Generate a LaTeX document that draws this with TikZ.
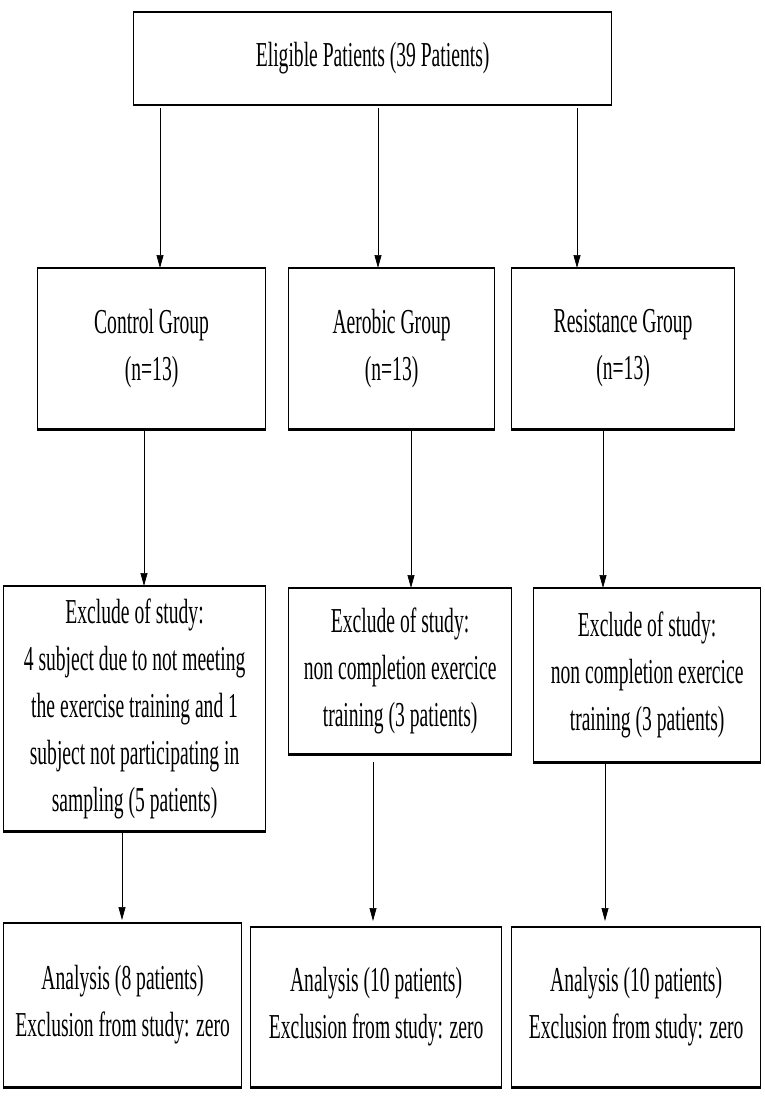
\documentclass[tikz,border=0pt]{standalone}
\usepackage{fontspec}
\setmainfont{Liberation Serif}[FakeStretch=0.56]
\usetikzlibrary{arrows.meta}
\begin{document}
\begin{tikzpicture}[x=1pt,y=-1pt,
  box/.style={draw, line width=1.2pt, rectangle, anchor=north west, inner sep=0pt,
    align=center, font=\fontsize{35}{47}\selectfont},
  arr/.style={line width=0.7pt, -{Triangle[length=13pt,width=7pt]}},
  edge/.style={line width=2.6pt}]
\useasboundingbox (0,0) rectangle (765,1097);
\node[box, minimum width=478pt, minimum height=92pt] (top) at (133,12) {Eligible Patients (39 Patients)};
\node[box, minimum width=228pt, minimum height=160pt] (ctrl) at (37,268) {Control Group\\(n=13)};
\node[box, minimum width=206pt, minimum height=160pt] (aer) at (288,268) {Aerobic Group\\(n=13)};
\node[box, minimum width=223pt, minimum height=160pt] (res) at (511,268) {Resistance Group\\(n=13)};
\node[box, minimum width=262pt, minimum height=244pt] (exc1) at (3,586) {Exclude of study:\\4 subject due to not meeting\\the exercise training and 1\\subject not participating in\\sampling (5 patients)};
\node[box, minimum width=223pt, minimum height=165pt] (exc2) at (288,588) {Exclude of study:\\non completion exercice\\training (3 patients)};
\node[box, minimum width=227pt, minimum height=173pt] (exc3) at (533,588) {Exclude of study:\\non completion exercice\\training (3 patients)};
\node[box, minimum width=238pt, minimum height=163pt] (ana1) at (3,923) {Analysis (8 patients)\\Exclusion from study: zero};
\node[box, minimum width=251pt, minimum height=159pt] (ana2) at (250,927) {Analysis (10 patients)\\Exclusion from study: zero};
\node[box, minimum width=249pt, minimum height=159pt] (ana3) at (511,927) {Analysis (10 patients)\\Exclusion from study: zero};
\foreach \n in {top,ctrl,aer,res,exc1,exc2,exc3,ana1,ana2,ana3}{
  \draw[edge] (\n.north west) -- (\n.north east);
  \draw[edge] (\n.south west) -- (\n.south east);
}
\coordinate (a1) at (160,0);
\coordinate (a2) at (378,0);
\coordinate (a3) at (577,0);
\coordinate (b1) at (144,0);
\coordinate (b2) at (411,0);
\coordinate (b3) at (603,0);
\coordinate (c1) at (122,0);
\coordinate (c2) at (373,0);
\coordinate (c3) at (605,0);
\draw[arr] ([yshift=-3pt]top.south -| a1) -- (ctrl.north -| a1);
\draw[arr] ([yshift=-3pt]top.south -| a2) -- (aer.north -| a2);
\draw[arr] ([yshift=-3pt]top.south -| a3) -- (res.north -| a3);
\draw[arr] ([yshift=-2pt]ctrl.south -| b1) -- (exc1.north -| b1);
\draw[arr] ([yshift=-2pt]aer.south -| b2) -- (exc2.north -| b2);
\draw[arr] ([yshift=-2pt]res.south -| b3) -- (exc3.north -| b3);
\draw[arr] ([yshift=-2pt]exc1.south -| c1) -- ([yshift=3pt]ana1.north -| c1);
\draw[arr] ([yshift=-8pt]exc2.south -| c2) -- ([yshift=6pt]ana2.north -| c2);
\draw[arr] ([yshift=-2pt]exc3.south -| c3) -- ([yshift=6pt]ana3.north -| c3);
\end{tikzpicture}
\end{document}
